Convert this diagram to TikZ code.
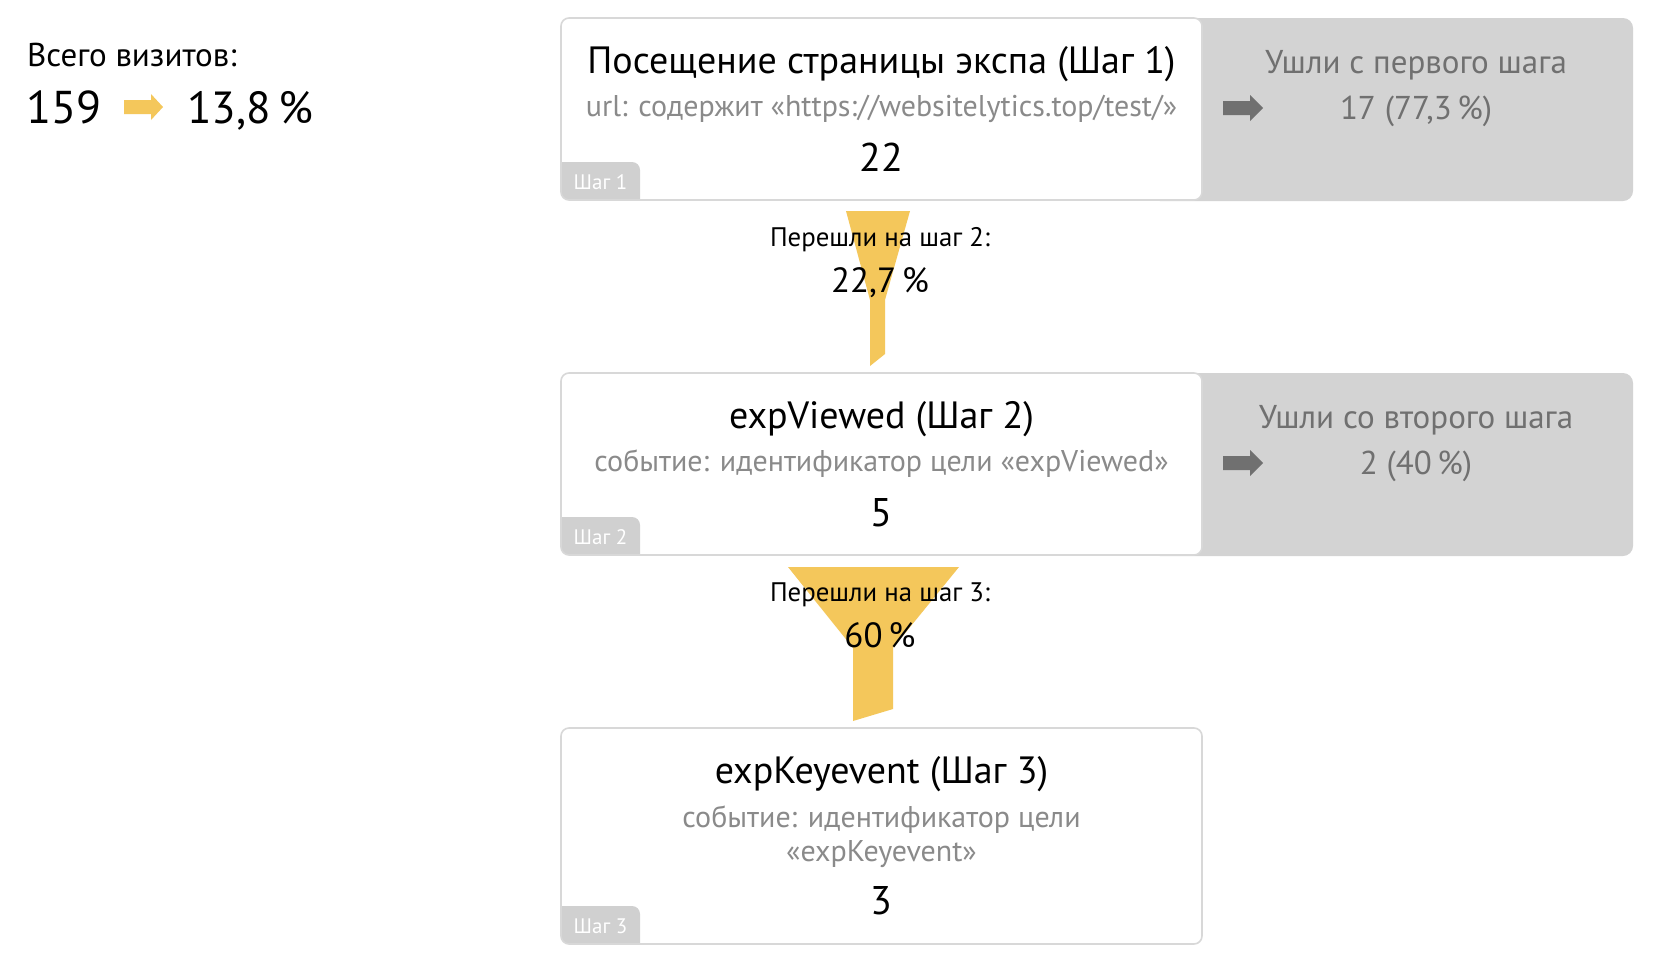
\documentclass[tikz,border=0pt]{standalone}
\usepackage{fontspec}
\setmainfont{PT Sans}
\definecolor{funnelyellow}{HTML}{F4C75B}
\definecolor{sidegray}{HTML}{D3D3D3}
\definecolor{boxline}{HTML}{D8D8D8}
\definecolor{tabgray}{HTML}{D0D0D0}
\definecolor{subtext}{HTML}{8A8A8A}
\definecolor{sidetext}{HTML}{707070}
\newcommand{\fsz}[1]{\fontsize{#1}{#1}\selectfont}
\tikzset{
  x=1pt, y=-1pt,
  txt/.style={inner sep=0pt, anchor=base},
  ttl/.style={txt, font=\fsz{38}, text=black},
  sub/.style={txt, font=\fsz{30}, text=subtext},
  num/.style={txt, font=\fsz{40}, text=black},
  sidet/.style={txt, font=\fsz{33}, text=sidetext},
  flow/.style={txt, font=\fsz{26.8}, text=black},
  pct/.style={txt, font=\fsz{35}, text=black},
  tabt/.style={txt, font=\fsz{21}, text=white},
}
\newcommand{\blockarrow}[4]{% x0, y center, length, color
  \fill[#4] (#1,#2-7) -- (#1+27,#2-7) -- (#1+27,#2-13) -- (#1+#3,#2) -- (#1+27,#2+13) -- (#1+27,#2+7) -- (#1,#2+7) -- cycle;}
\begin{document}
\begin{tikzpicture}
\useasboundingbox (0,0) rectangle (1666,962);
\fill[white] (0,0) rectangle (1666,962);

% left summary
\node[txt, anchor=base west, font=\fsz{33}] (total) at (27,66) {Всего визитов:};
\node[txt, anchor=base west, font=\fsz{46}] (visits) at (26,123) {159};
\blockarrow{124}{107}{39}{funnelyellow}
\coordinate (yarrow) at (143,107);
\node[txt, anchor=base west, font=\fsz{45}] (conv) at (187,123) {13,8\,\%};

% side gray boxes
\fill[sidegray, rounded corners=10pt] (1150,18) rectangle (1633,201);
\fill[sidegray, rounded corners=10pt] (1150,373) rectangle (1633,556);

% funnels
\fill[funnelyellow] (846,211) -- (910,211) -- (885,300) -- (885,354) -- (870,366) -- (870,300) -- cycle;
\fill[funnelyellow] (788,567) -- (959,567) -- (893,648) -- (893,709) -- (853,721) -- (853,648) -- cycle;

% step boxes (white)
\foreach \nm/\yt/\yb in {s1/18/200, s2/373/555, s3/728/944}{
  \fill[white, rounded corners=8pt] (561,\yt) rectangle (1202,\yb);
  \begin{scope}
    \clip[rounded corners=8pt] (561,\yt) rectangle (1202,\yb);
    \fill[tabgray, rounded corners=8pt] (540,\yb-38) rectangle (640,\yb+20);
  \end{scope}
  \draw[boxline, line width=1.6pt, rounded corners=8pt] (561,\yt) rectangle (1202,\yb);
}
\node[tabt] (tab1) at (600.5,189) {Шаг 1};
\node[tabt] (tab2) at (600.5,544) {Шаг 2};
\node[tabt] (tab3) at (600.5,933) {Шаг 3};

% step 1
\node[ttl] (t1) at (881.5,73) {Посещение страницы экспа (Шаг 1)};
\node[sub] (u1) at (881.5,116) {url: содержит «https://websitelytics.top/test/»};
\node[num] (n1) at (881.5,171) {22};

% side 1
\node[sidet] (l1a) at (1416,73) {Ушли с первого шага};
\node[sidet] (l1b) at (1416,119) {17 (77,3\,\%)};
\blockarrow{1223}{108}{40}{sidetext}

% flow 1
\node[flow] (f1a) at (880,246) {Перешли на шаг 2:};
\node[pct] (f1b) at (880,292) {22,7\,\%};

% step 2
\node[ttl] (t2) at (881.5,428) {expViewed (Шаг 2)};
\node[sub] (u2) at (881.5,471) {событие: идентификатор цели «expViewed»};
\node[num] (n2) at (881.5,526) {5};

% side 2
\node[sidet] (l2a) at (1416,428) {Ушли со второго шага};
\node[sidet] (l2b) at (1416,474) {2 (40\,\%)};
\blockarrow{1223}{463}{40}{sidetext}

% flow 2
\node[flow] (f2a) at (880,601) {Перешли на шаг 3:};
\node[pct] (f2b) at (880,647) {60\,\%};

% step 3
\node[ttl] (t3) at (881.5,783) {expKeyevent (Шаг 3)};
\node[sub] (u3a) at (881.5,827) {событие: идентификатор цели};
\node[sub] (u3b) at (881.5,861) {«expKeyevent»};
\node[num] (n3) at (881.5,914) {3};
\end{tikzpicture}
\end{document}
